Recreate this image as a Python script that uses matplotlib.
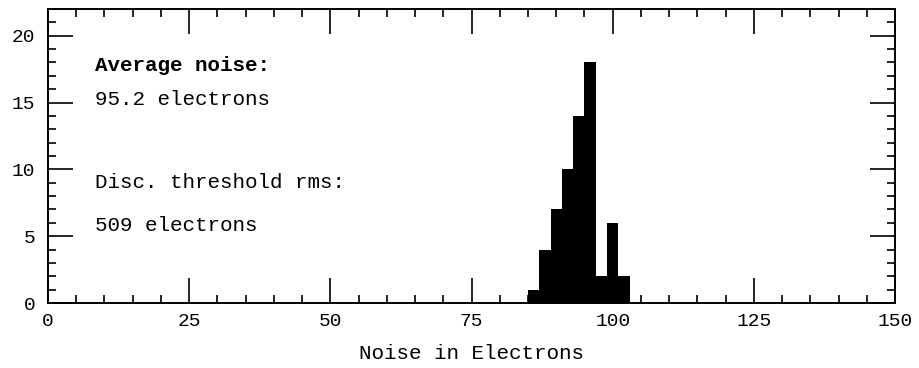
import numpy as np
import matplotlib
matplotlib.use("Agg")
import matplotlib.pyplot as plt
from matplotlib.ticker import MultipleLocator

# -----------------------------
# DATA
# -----------------------------
bin_edges = [85, 87, 89, 91, 93, 95, 97, 99, 101, 103]
counts = [1, 4, 7, 10, 14, 18, 2, 6, 2]
x_ticks = [0, 25, 50, 75, 100, 125, 150]
y_ticks = [0, 5, 10, 15, 20]

avg_label = "Average noise:"
avg_value = "95.2 electrons"
thr_label = "Disc. threshold rms:"
thr_value = "509 electrons"

MONO = "Liberation Mono"

# -------- Figure --------
fig = plt.figure(figsize=(9.19, 3.68), dpi=100)
ax = fig.add_axes([0.0522, 0.1766, 0.9218, 0.7989])

# filled histogram as one step polygon
ax.fill_between(bin_edges, counts + [counts[-1]], step="post",
                color="black", linewidth=0)

ax.set_xlim(0, 150)
ax.set_ylim(0, 22)
ax.set_xticks(x_ticks)
ax.set_yticks(y_ticks)
ax.xaxis.set_minor_locator(MultipleLocator(5))
ax.yaxis.set_minor_locator(MultipleLocator(1))

ax.tick_params(which="both", direction="in", top=True, right=True, width=1.2,
               colors="black")
ax.tick_params(which="major", length=18, labelsize=14)
ax.tick_params(axis="x", which="major", pad=7)
ax.tick_params(axis="y", which="major", pad=9)
ax.tick_params(which="minor", length=5.5)
for lab in ax.get_xticklabels() + ax.get_yticklabels():
    lab.set_family(MONO)
for s in ax.spines.values():
    s.set_linewidth(1.4)

ax.set_xlabel("Noise in Electrons", family=MONO, fontsize=15, labelpad=10)

# ---- Annotations ----
tfont = dict(family=MONO, fontsize=15, va="center", ha="left")
ax.text(8.3, 17.8, avg_label, fontweight="bold", **tfont)
ax.text(8.3, 15.2, avg_value, **tfont)
ax.text(8.3, 9.0, thr_label, **tfont)
ax.text(8.3, 5.8, thr_value, **tfont)

fig.savefig("out.png", dpi=100)
